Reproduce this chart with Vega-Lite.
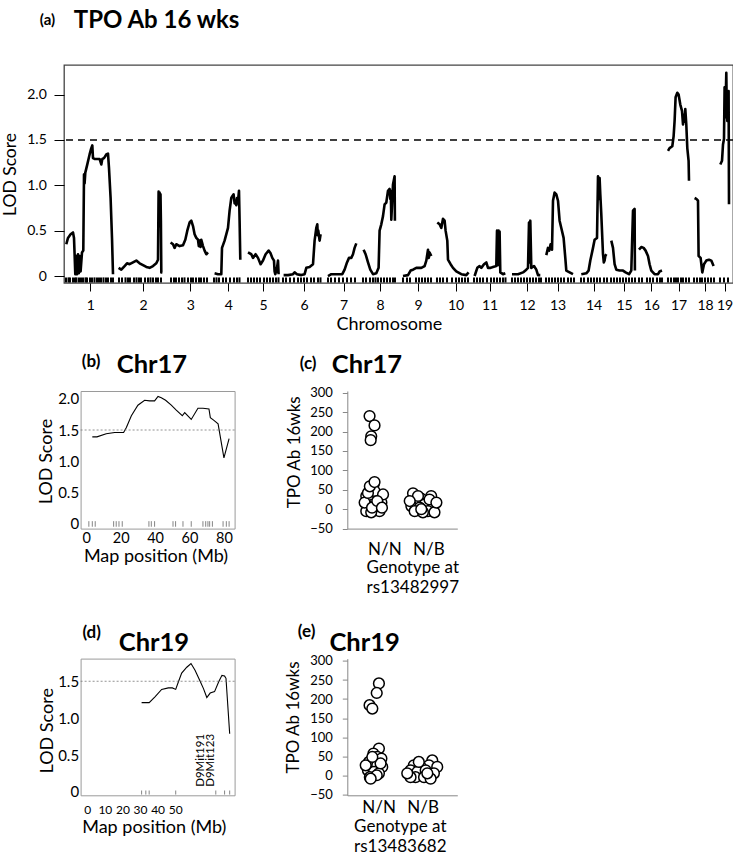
{
"$schema": "https://vega.github.io/schema/vega-lite/v6.json",
"background": "white",
"padding": {"left": 0, "top": 7, "right": 0, "bottom": 0},
"config": {"font": "Lato", "view": {"stroke": null}, "axis": {"grid": false, "labelColor": "#000", "titleColor": "#000", "titleFontWeight": "normal", "labelFlush": false, "labelOverlap": false}},
"datasets": {
"lodA": [
{"chr":1,"pos":2.3,"lod":0.35},{"chr":1,"pos":4.0,"lod":0.42},{"chr":1,"pos":6.6,"lod":0.46},{"chr":1,"pos":9.0,"lod":0.48},{"chr":1,"pos":10.0,"lod":0.42},{"chr":1,"pos":10.6,"lod":0.24},{"chr":1,"pos":11.3,"lod":0.02},{"chr":1,"pos":12.3,"lod":0.22},{"chr":1,"pos":13.0,"lod":0.02},{"chr":1,"pos":14.0,"lod":0.24},{"chr":1,"pos":14.8,"lod":0.03},{"chr":1,"pos":15.8,"lod":0.22},{"chr":1,"pos":16.6,"lod":0.05},{"chr":1,"pos":18.0,"lod":0.26},{"chr":1,"pos":19.3,"lod":0.28},{"chr":1,"pos":20.0,"lod":1.12},{"chr":1,"pos":20.6,"lod":1.02},{"chr":1,"pos":21.3,"lod":1.14},{"chr":1,"pos":23.3,"lod":1.23},{"chr":1,"pos":25.6,"lod":1.34},{"chr":1,"pos":27.3,"lod":1.41},{"chr":1,"pos":28.3,"lod":1.44},{"chr":1,"pos":29.0,"lod":1.30},{"chr":1,"pos":30.6,"lod":1.29},{"chr":1,"pos":35.6,"lod":1.29},{"chr":1,"pos":37.3,"lod":1.23},{"chr":1,"pos":38.3,"lod":1.29},{"chr":1,"pos":40.0,"lod":1.30},{"chr":1,"pos":42.3,"lod":1.34},{"chr":1,"pos":44.0,"lod":1.35},{"chr":1,"pos":45.0,"lod":1.19},{"chr":1,"pos":46.6,"lod":0.86},{"chr":1,"pos":48.0,"lod":0.42},{"chr":1,"pos":49.0,"lod":0.02},
{"chr":2,"pos":54.6,"lod":0.09},{"chr":2,"pos":57.3,"lod":0.07},{"chr":2,"pos":60.6,"lod":0.11},{"chr":2,"pos":63.0,"lod":0.14},{"chr":2,"pos":65.6,"lod":0.13},{"chr":2,"pos":69.0,"lod":0.15},{"chr":2,"pos":72.3,"lod":0.17},{"chr":2,"pos":75.6,"lod":0.14},{"chr":2,"pos":79.0,"lod":0.12},{"chr":2,"pos":82.3,"lod":0.10},{"chr":2,"pos":85.6,"lod":0.09},{"chr":2,"pos":89.0,"lod":0.11},{"chr":2,"pos":92.3,"lod":0.14},{"chr":2,"pos":94.0,"lod":0.18},{"chr":2,"pos":94.6,"lod":0.93},{"chr":2,"pos":95.1,"lod":0.55},{"chr":2,"pos":95.6,"lod":0.92},{"chr":2,"pos":96.0,"lod":0.60},{"chr":2,"pos":96.5,"lod":0.90},{"chr":2,"pos":96.9,"lod":0.61},{"chr":2,"pos":97.3,"lod":0.04},{"chr":2,"pos":98.3,"lod":0.04},
{"chr":3,"pos":106.6,"lod":0.37},{"chr":3,"pos":109.0,"lod":0.35},{"chr":3,"pos":110.6,"lod":0.31},{"chr":3,"pos":112.3,"lod":0.35},{"chr":3,"pos":115.6,"lod":0.33},{"chr":3,"pos":119.0,"lod":0.34},{"chr":3,"pos":121.3,"lod":0.40},{"chr":3,"pos":123.3,"lod":0.50},{"chr":3,"pos":125.6,"lod":0.59},{"chr":3,"pos":127.3,"lod":0.61},{"chr":3,"pos":129.0,"lod":0.55},{"chr":3,"pos":130.6,"lod":0.46},{"chr":3,"pos":132.3,"lod":0.42},{"chr":3,"pos":134.0,"lod":0.40},{"chr":3,"pos":134.8,"lod":0.33},{"chr":3,"pos":135.6,"lod":0.39},{"chr":3,"pos":136.5,"lod":0.32},{"chr":3,"pos":137.3,"lod":0.40},{"chr":3,"pos":139.0,"lod":0.33},{"chr":3,"pos":140.6,"lod":0.28},{"chr":3,"pos":142.3,"lod":0.24},{"chr":3,"pos":144.0,"lod":0.26},
{"chr":4,"pos":150.6,"lod":0.03},{"chr":4,"pos":154.0,"lod":0.02},{"chr":4,"pos":157.3,"lod":0.02},{"chr":4,"pos":158.0,"lod":0.31},{"chr":4,"pos":160.6,"lod":0.39},{"chr":4,"pos":164.0,"lod":0.53},{"chr":4,"pos":165.6,"lod":0.72},{"chr":4,"pos":167.3,"lod":0.86},{"chr":4,"pos":168.3,"lod":0.88},{"chr":4,"pos":169.6,"lod":0.90},{"chr":4,"pos":170.6,"lod":0.80},{"chr":4,"pos":171.6,"lod":0.83},{"chr":4,"pos":172.3,"lod":0.78},{"chr":4,"pos":173.0,"lod":0.86},{"chr":4,"pos":173.8,"lod":0.80},{"chr":4,"pos":175.0,"lod":0.94},{"chr":4,"pos":175.6,"lod":0.61},{"chr":4,"pos":176.3,"lod":0.18},
{"chr":5,"pos":184.0,"lod":0.26},{"chr":5,"pos":187.3,"lod":0.24},{"chr":5,"pos":189.0,"lod":0.20},{"chr":5,"pos":191.6,"lod":0.24},{"chr":5,"pos":194.0,"lod":0.20},{"chr":5,"pos":196.6,"lod":0.13},{"chr":5,"pos":199.0,"lod":0.17},{"chr":5,"pos":201.6,"lod":0.24},{"chr":5,"pos":204.6,"lod":0.28},{"chr":5,"pos":206.6,"lod":0.25},{"chr":5,"pos":208.3,"lod":0.20},{"chr":5,"pos":210.0,"lod":0.17},{"chr":5,"pos":210.6,"lod":0.05},{"chr":5,"pos":211.3,"lod":0.02},{"chr":5,"pos":213.0,"lod":0.09},{"chr":5,"pos":214.0,"lod":0.17},{"chr":5,"pos":214.6,"lod":0.02},
{"chr":6,"pos":219.6,"lod":0.01},{"chr":6,"pos":224.0,"lod":0.01},{"chr":6,"pos":229.0,"lod":0.02},{"chr":6,"pos":230.6,"lod":0.04},{"chr":6,"pos":233.0,"lod":0.02},{"chr":6,"pos":237.3,"lod":0.01},{"chr":6,"pos":240.6,"lod":0.02},{"chr":6,"pos":242.3,"lod":0.09},{"chr":6,"pos":245.6,"lod":0.10},{"chr":6,"pos":249.0,"lod":0.13},{"chr":6,"pos":250.6,"lod":0.39},{"chr":6,"pos":252.3,"lod":0.53},{"chr":6,"pos":253.3,"lod":0.57},{"chr":6,"pos":253.8,"lod":0.45},{"chr":6,"pos":254.3,"lod":0.50},{"chr":6,"pos":255.6,"lod":0.39},{"chr":6,"pos":256.6,"lod":0.46},
{"chr":7,"pos":264.0,"lod":0.00},{"chr":7,"pos":267.3,"lod":0.02},{"chr":7,"pos":272.3,"lod":0.02},{"chr":7,"pos":278.3,"lod":0.02},{"chr":7,"pos":280.6,"lod":0.07},{"chr":7,"pos":283.0,"lod":0.15},{"chr":7,"pos":285.0,"lod":0.20},{"chr":7,"pos":287.3,"lod":0.20},{"chr":7,"pos":289.0,"lod":0.24},{"chr":7,"pos":290.6,"lod":0.31},{"chr":7,"pos":292.3,"lod":0.36},
{"chr":8,"pos":299.6,"lod":0.29},{"chr":8,"pos":301.6,"lod":0.24},{"chr":8,"pos":304.0,"lod":0.15},{"chr":8,"pos":306.3,"lod":0.07},{"chr":8,"pos":309.0,"lod":0.02},{"chr":8,"pos":312.3,"lod":0.03},{"chr":8,"pos":314.6,"lod":0.09},{"chr":8,"pos":315.6,"lod":0.50},{"chr":8,"pos":317.3,"lod":0.57},{"chr":8,"pos":319.0,"lod":0.66},{"chr":8,"pos":320.6,"lod":0.79},{"chr":8,"pos":322.3,"lod":0.81},{"chr":8,"pos":324.0,"lod":0.94},{"chr":8,"pos":325.6,"lod":0.96},{"chr":8,"pos":326.3,"lod":0.85},{"chr":8,"pos":326.8,"lod":0.94},{"chr":8,"pos":327.3,"lod":0.62},{"chr":8,"pos":329.0,"lod":1.01},{"chr":8,"pos":330.6,"lod":1.10},{"chr":8,"pos":330.9,"lod":0.61},
{"chr":9,"pos":339.0,"lod":0.00},{"chr":9,"pos":344.0,"lod":0.01},{"chr":9,"pos":346.6,"lod":0.06},{"chr":9,"pos":349.0,"lod":0.07},{"chr":9,"pos":352.3,"lod":0.09},{"chr":9,"pos":357.3,"lod":0.09},{"chr":9,"pos":360.6,"lod":0.11},{"chr":9,"pos":362.3,"lod":0.17},{"chr":9,"pos":364.0,"lod":0.29},{"chr":9,"pos":364.8,"lod":0.20},{"chr":9,"pos":365.6,"lod":0.26},{"chr":9,"pos":367.3,"lod":0.22},
{"chr":10,"pos":373.3,"lod":0.59},{"chr":10,"pos":375.6,"lod":0.57},{"chr":10,"pos":377.3,"lod":0.53},{"chr":10,"pos":379.0,"lod":0.63},{"chr":10,"pos":380.6,"lod":0.61},{"chr":10,"pos":381.6,"lod":0.50},{"chr":10,"pos":383.3,"lod":0.39},{"chr":10,"pos":384.0,"lod":0.18},{"chr":10,"pos":386.6,"lod":0.13},{"chr":10,"pos":389.0,"lod":0.09},{"chr":10,"pos":392.3,"lod":0.05},{"chr":10,"pos":397.3,"lod":0.02},{"chr":10,"pos":402.3,"lod":0.01},{"chr":10,"pos":404.6,"lod":0.04},
{"chr":11,"pos":410.6,"lod":0.00},{"chr":11,"pos":413.3,"lod":0.09},{"chr":11,"pos":415.6,"lod":0.11},{"chr":11,"pos":417.3,"lod":0.09},{"chr":11,"pos":420.0,"lod":0.13},{"chr":11,"pos":422.3,"lod":0.15},{"chr":11,"pos":424.0,"lod":0.09},{"chr":11,"pos":426.6,"lod":0.09},{"chr":11,"pos":429.0,"lod":0.10},{"chr":11,"pos":432.3,"lod":0.11},{"chr":11,"pos":433.0,"lod":0.50},{"chr":11,"pos":433.8,"lod":0.12},{"chr":11,"pos":434.6,"lod":0.50},{"chr":11,"pos":435.3,"lod":0.15},{"chr":11,"pos":435.6,"lod":0.49},{"chr":11,"pos":436.3,"lod":0.04},{"chr":11,"pos":439.0,"lod":0.02},{"chr":11,"pos":441.3,"lod":0.03},
{"chr":12,"pos":448.0,"lod":0.02},{"chr":12,"pos":454.0,"lod":0.02},{"chr":12,"pos":459.0,"lod":0.04},{"chr":12,"pos":462.3,"lod":0.07},{"chr":12,"pos":464.0,"lod":0.09},{"chr":12,"pos":465.0,"lod":0.59},{"chr":12,"pos":465.6,"lod":0.15},{"chr":12,"pos":466.3,"lod":0.61},{"chr":12,"pos":467.3,"lod":0.09},{"chr":12,"pos":470.0,"lod":0.11},{"chr":12,"pos":472.3,"lod":0.07},{"chr":12,"pos":474.0,"lod":0.01},{"chr":12,"pos":476.3,"lod":0.01},
{"chr":13,"pos":482.3,"lod":0.23},{"chr":13,"pos":484.0,"lod":0.31},{"chr":13,"pos":485.3,"lod":0.28},{"chr":13,"pos":486.6,"lod":0.35},{"chr":13,"pos":488.0,"lod":0.29},{"chr":13,"pos":489.0,"lod":0.83},{"chr":13,"pos":490.6,"lod":0.92},{"chr":13,"pos":492.3,"lod":0.90},{"chr":13,"pos":494.0,"lod":0.83},{"chr":13,"pos":495.6,"lod":0.61},{"chr":13,"pos":497.3,"lod":0.53},{"chr":13,"pos":499.6,"lod":0.42},{"chr":13,"pos":501.3,"lod":0.20},{"chr":13,"pos":502.3,"lod":0.06},{"chr":13,"pos":505.6,"lod":0.04},{"chr":13,"pos":509.0,"lod":0.02},
{"chr":14,"pos":517.3,"lod":0.02},{"chr":14,"pos":522.3,"lod":0.03},{"chr":14,"pos":524.6,"lod":0.06},{"chr":14,"pos":526.3,"lod":0.17},{"chr":14,"pos":529.0,"lod":0.31},{"chr":14,"pos":530.6,"lod":0.40},{"chr":14,"pos":533.0,"lod":0.42},{"chr":14,"pos":534.0,"lod":1.10},{"chr":14,"pos":534.6,"lod":0.85},{"chr":14,"pos":535.6,"lod":1.08},{"chr":14,"pos":536.3,"lod":0.90},{"chr":14,"pos":537.3,"lod":0.68},{"chr":14,"pos":539.0,"lod":0.24},{"chr":14,"pos":539.8,"lod":0.15},{"chr":14,"pos":540.6,"lod":0.17},{"chr":14,"pos":541.3,"lod":0.22},{"chr":14,"pos":542.3,"lod":0.24},
{"chr":15,"pos":547.3,"lod":0.39},{"chr":15,"pos":549.0,"lod":0.31},{"chr":15,"pos":550.6,"lod":0.13},{"chr":15,"pos":552.3,"lod":0.07},{"chr":15,"pos":555.6,"lod":0.06},{"chr":15,"pos":559.0,"lod":0.06},{"chr":15,"pos":561.6,"lod":0.04},{"chr":15,"pos":565.0,"lod":0.02},{"chr":15,"pos":567.3,"lod":0.06},{"chr":15,"pos":569.0,"lod":0.72},{"chr":15,"pos":570.6,"lod":0.74},{"chr":15,"pos":570.9,"lod":0.06},
{"chr":16,"pos":575.0,"lod":0.29},{"chr":16,"pos":577.3,"lod":0.32},{"chr":16,"pos":579.6,"lod":0.31},{"chr":16,"pos":581.6,"lod":0.28},{"chr":16,"pos":584.0,"lod":0.22},{"chr":16,"pos":585.6,"lod":0.13},{"chr":16,"pos":587.3,"lod":0.06},{"chr":16,"pos":590.6,"lod":0.02},{"chr":16,"pos":594.0,"lod":0.02},{"chr":16,"pos":595.6,"lod":0.05},{"chr":16,"pos":598.0,"lod":0.06},
{"chr":17,"pos":604.0,"lod":1.38},{"chr":17,"pos":605.6,"lod":1.41},{"chr":17,"pos":608.3,"lod":1.43},{"chr":17,"pos":609.6,"lod":1.54},{"chr":17,"pos":610.6,"lod":1.71},{"chr":17,"pos":611.6,"lod":1.97},{"chr":17,"pos":613.3,"lod":2.02},{"chr":17,"pos":614.6,"lod":2.00},{"chr":17,"pos":616.3,"lod":1.89},{"chr":17,"pos":618.0,"lod":1.82},{"chr":17,"pos":619.0,"lod":1.67},{"chr":17,"pos":620.0,"lod":1.78},{"chr":17,"pos":620.6,"lod":1.70},{"chr":17,"pos":621.3,"lod":1.84},{"chr":17,"pos":622.3,"lod":1.67},{"chr":17,"pos":623.3,"lod":1.41},{"chr":17,"pos":624.6,"lod":1.27},{"chr":17,"pos":625.0,"lod":1.05},
{"chr":18,"pos":630.6,"lod":0.86},{"chr":18,"pos":632.3,"lod":0.85},{"chr":18,"pos":634.0,"lod":0.83},{"chr":18,"pos":634.6,"lod":0.22},{"chr":18,"pos":636.6,"lod":0.20},{"chr":18,"pos":638.3,"lod":0.04},{"chr":18,"pos":640.0,"lod":0.13},{"chr":18,"pos":642.3,"lod":0.17},{"chr":18,"pos":645.0,"lod":0.18},{"chr":18,"pos":647.3,"lod":0.17},{"chr":18,"pos":649.6,"lod":0.11},
{"chr":19,"pos":656.3,"lod":1.23},{"chr":19,"pos":658.0,"lod":1.27},{"chr":19,"pos":659.0,"lod":1.45},{"chr":19,"pos":660.0,"lod":1.51},{"chr":19,"pos":660.6,"lod":2.08},{"chr":19,"pos":661.3,"lod":1.75},{"chr":19,"pos":662.3,"lod":2.24},{"chr":19,"pos":662.8,"lod":1.80},{"chr":19,"pos":663.3,"lod":1.71},{"chr":19,"pos":664.6,"lod":2.04},{"chr":19,"pos":665.0,"lod":0.79}
],
"rugA": [
{"pos":2},{"pos":4.5},{"pos":6},{"pos":9},{"pos":11},{"pos":12.5},{"pos":15},{"pos":17},{"pos":19},{"pos":21.5},{"pos":23},{"pos":26},{"pos":28},{"pos":30.5},{"pos":33},{"pos":35},{"pos":37},{"pos":39.5},{"pos":42},{"pos":44},{"pos":47},{"pos":49},
{"pos":55},{"pos":58},{"pos":61.5},{"pos":64},{"pos":66},{"pos":70},{"pos":72.5},{"pos":75},{"pos":77},{"pos":81},{"pos":84},{"pos":86.5},{"pos":89},{"pos":92},{"pos":94},{"pos":97},
{"pos":107},{"pos":110},{"pos":112},{"pos":115},{"pos":118},{"pos":120.5},{"pos":124},{"pos":127},{"pos":129},{"pos":132},{"pos":135},{"pos":137},{"pos":140},{"pos":143},
{"pos":150},{"pos":152.5},{"pos":155},{"pos":159},{"pos":162},{"pos":166},{"pos":170},{"pos":173},{"pos":175.5},
{"pos":184},{"pos":187},{"pos":190},{"pos":193},{"pos":196},{"pos":200},{"pos":203},{"pos":206},{"pos":209},{"pos":212},{"pos":214.5},
{"pos":219},{"pos":222},{"pos":226},{"pos":230},{"pos":234},{"pos":237},{"pos":240},{"pos":243},{"pos":247},{"pos":250},{"pos":254},{"pos":256.5},
{"pos":264},{"pos":267},{"pos":271},{"pos":275},{"pos":279},{"pos":283},{"pos":287},{"pos":291},
{"pos":299},{"pos":302},{"pos":306},{"pos":309},{"pos":311.5},{"pos":314},{"pos":317},{"pos":320},{"pos":323},{"pos":326},{"pos":329},{"pos":331},
{"pos":339},{"pos":343},{"pos":346},{"pos":352},{"pos":355},{"pos":358},{"pos":361},{"pos":364},{"pos":367},
{"pos":373},{"pos":376},{"pos":379},{"pos":383},{"pos":388},{"pos":392},{"pos":395},{"pos":398},{"pos":401},{"pos":404},
{"pos":410},{"pos":413},{"pos":416},{"pos":419},{"pos":423},{"pos":427},{"pos":430},{"pos":433},{"pos":436},{"pos":439},{"pos":441.5},
{"pos":448},{"pos":451},{"pos":454},{"pos":457},{"pos":460},{"pos":463},{"pos":466},{"pos":469},{"pos":472},{"pos":475},{"pos":477},
{"pos":482},{"pos":485},{"pos":488},{"pos":491},{"pos":494},{"pos":497},{"pos":500},{"pos":504},{"pos":507},{"pos":510},
{"pos":517},{"pos":520},{"pos":524},{"pos":527},{"pos":530},{"pos":533},{"pos":536},{"pos":540},{"pos":543},
{"pos":547},{"pos":550},{"pos":553},{"pos":556},{"pos":559},{"pos":562},{"pos":565},{"pos":568},{"pos":571},
{"pos":575},{"pos":578},{"pos":583},{"pos":586},{"pos":589},{"pos":593},{"pos":596},{"pos":598},
{"pos":604},{"pos":607},{"pos":610},{"pos":612},{"pos":614},{"pos":617},{"pos":619},{"pos":622},{"pos":625},
{"pos":630},{"pos":633},{"pos":636},{"pos":638},{"pos":641},{"pos":644},{"pos":647},{"pos":650},
{"pos":656},{"pos":660},{"pos":664}
],
"lodB": [
{"mb":3.5,"lod":1.39},{"mb":6.2,"lod":1.39},{"mb":11.6,"lod":1.44},{"mb":16.5,"lod":1.46},{"mb":21.7,"lod":1.46},{"mb":23.3,"lod":1.54},{"mb":26.2,"lod":1.73},{"mb":30.0,"lod":1.90},{"mb":33.9,"lod":1.98},{"mb":36.8,"lod":1.97},{"mb":39.7,"lod":1.97},{"mb":41.7,"lod":2.04},{"mb":43.6,"lod":2.02},{"mb":46.1,"lod":1.98},{"mb":49.4,"lod":1.90},{"mb":52.3,"lod":1.82},{"mb":55.8,"lod":1.73},{"mb":57.2,"lod":1.78},{"mb":61.0,"lod":1.67},{"mb":64.9,"lod":1.85},{"mb":67.8,"lod":1.85},{"mb":71.3,"lod":1.84},{"mb":72.1,"lod":1.70},{"mb":74.0,"lod":1.66},{"mb":76.6,"lod":1.60},{"mb":80.0,"lod":1.05},{"mb":83.0,"lod":1.36}
],
"rugB": [{"mb":1.5},{"mb":3.5},{"mb":5.2},{"mb":15.9},{"mb":17.4},{"mb":19.0},{"mb":20.9},{"mb":36.4},{"mb":37.8},{"mb":39.7},{"mb":50.4},{"mb":51.9},{"mb":56.2},{"mb":61.0},{"mb":67.8},{"mb":69.4},{"mb":70.7},{"mb":71.7},{"mb":73.3},{"mb":79.5},{"mb":81.4},{"mb":83.0}],
"lodD": [
{"mb":30.9,"lod":1.21},{"mb":35.2,"lod":1.21},{"mb":38.5,"lod":1.29},{"mb":42.3,"lod":1.39},{"mb":46.1,"lod":1.41},{"mb":48.4,"lod":1.41},{"mb":50.3,"lod":1.39},{"mb":51.8,"lod":1.49},{"mb":53.7,"lod":1.61},{"mb":56.6,"lod":1.69},{"mb":59.0,"lod":1.74},{"mb":61.3,"lod":1.65},{"mb":64.2,"lod":1.50},{"mb":66.1,"lod":1.40},{"mb":68.0,"lod":1.28},{"mb":69.9,"lod":1.34},{"mb":72.4,"lod":1.36},{"mb":74.7,"lod":1.49},{"mb":76.6,"lod":1.58},{"mb":78.1,"lod":1.57},{"mb":78.9,"lod":1.54},{"mb":81.0,"lod":0.79}
],
"rugD": [{"mb":30.9},{"mb":33.3},{"mb":35.2},{"mb":50.3},{"mb":73.1},{"mb":78.1},{"mb":81.0}],
"markD": [{"name":"D9Mit191","mb":64.6,"lod":0.07},{"name":"D9Mit123","mb":70.6,"lod":0.07}],
"ptsC": [
{"jx":0.81,"tpo":240},{"jx":0.99,"tpo":216},{"jx":0.87,"tpo":188},{"jx":0.85,"tpo":178},{"jx":0.97,"tpo":66},{"jx":0.85,"tpo":55},{"jx":0.69,"tpo":34},{"jx":0.81,"tpo":25},{"jx":1.12,"tpo":34},{"jx":1.24,"tpo":17},{"jx":0.93,"tpo":12},{"jx":0.75,"tpo":8},{"jx":0.69,"tpo":-5},{"jx":1.05,"tpo":-1},{"jx":1.17,"tpo":-5},{"jx":0.87,"tpo":-8},{"jx":0.99,"tpo":47},{"jx":1.30,"tpo":38},{"jx":0.63,"tpo":17},{"jx":1.17,"tpo":8},{"jx":0.90,"tpo":4},{"jx":0.75,"tpo":42},{"jx":1.09,"tpo":21},{"jx":1.26,"tpo":4},{"jx":0.82,"tpo":59},{"jx":0.99,"tpo":70},
{"jx":2.39,"tpo":41},{"jx":3.05,"tpo":34},{"jx":2.69,"tpo":27},{"jx":2.93,"tpo":19},{"jx":2.51,"tpo":17},{"jx":2.81,"tpo":12},{"jx":2.33,"tpo":8},{"jx":2.63,"tpo":4},{"jx":3.12,"tpo":4},{"jx":2.45,"tpo":-5},{"jx":2.93,"tpo":-5},{"jx":3.17,"tpo":-8},{"jx":2.75,"tpo":-8},{"jx":2.57,"tpo":34},{"jx":2.99,"tpo":25},{"jx":2.27,"tpo":21},{"jx":3.24,"tpo":17},{"jx":2.69,"tpo":0}
],
"ptsE": [
{"jx":1.15,"tpo":241},{"jx":1.07,"tpo":216},{"jx":0.81,"tpo":184},{"jx":0.91,"tpo":175},{"jx":1.15,"tpo":70},{"jx":0.95,"tpo":57},{"jx":1.09,"tpo":48},{"jx":0.79,"tpo":35},{"jx":1.02,"tpo":39},{"jx":1.24,"tpo":44},{"jx":0.85,"tpo":22},{"jx":1.09,"tpo":26},{"jx":1.27,"tpo":22},{"jx":0.75,"tpo":13},{"jx":0.97,"tpo":9},{"jx":1.15,"tpo":5},{"jx":0.82,"tpo":-5},{"jx":1.07,"tpo":0},{"jx":0.85,"tpo":-9},{"jx":0.67,"tpo":26},{"jx":1.21,"tpo":31},{"jx":0.91,"tpo":48},
{"jx":3.09,"tpo":39},{"jx":2.97,"tpo":26},{"jx":3.27,"tpo":22},{"jx":2.42,"tpo":26},{"jx":2.67,"tpo":22},{"jx":2.30,"tpo":13},{"jx":2.55,"tpo":9},{"jx":2.85,"tpo":13},{"jx":3.15,"tpo":5},{"jx":2.48,"tpo":-5},{"jx":2.79,"tpo":-5},{"jx":3.03,"tpo":-9},{"jx":2.30,"tpo":-5},{"jx":2.60,"tpo":35},{"jx":2.91,"tpo":5},{"jx":2.18,"tpo":5}
]
},
"spacing": 17,
"vconcat": [
{
"width": 669, "height": 218,
"view": {"stroke": "#444", "strokeWidth": 1.3},
"resolve": {"axis": {"x": "independent", "y": "independent"}},
"layer": [
{"data": {"name": "lodA"}, "mark": {"type": "line", "color": "#000", "strokeWidth": 2.6, "strokeJoin": "round"},
 "encoding": {
  "x": {"field": "pos", "type": "quantitative", "scale": {"domain": [0, 669], "nice": false, "zero": false},
   "axis": {"orient": "bottom", "values": [26.3,79,126.3,164.3,199,240,279.6,316,354,391.6,425.6,463,493.6,529.6,560,587.3,614.6,641,660.6], "labelExpr": "indexof([26.3,79,126.3,164.3,199,240,279.6,316,354,391.6,425.6,463,493.6,529.6,560,587.3,614.6,641,660.6], datum.value) + 1", "domain": false, "tickSize": 8, "tickColor": "#000", "tickWidth": 1, "labelFontSize": 14, "labelPadding": 7, "title": "Chromosome", "titleFontSize": 18, "titleX": 324.8, "titleY": 46.3, "titleAlign": "center", "titleBaseline": "alphabetic"}},
  "y": {"field": "lod", "type": "quantitative", "scale": {"domain": [-0.077, 2.326], "nice": false, "zero": false},
   "axis": {"orient": "left", "values": [0, 0.5, 1, 1.5, 2], "labelExpr": "datum.value == 0 ? '0' : format(datum.value, '.1f')", "domain": false, "tickSize": 10, "tickColor": "#000", "tickWidth": 1, "labelFontSize": 14, "labelPadding": 7.7, "title": "LOD Score", "titleFontSize": 17.5, "titleX": -53.6, "titleY": 109, "titleAngle": 270, "titleAlign": "center", "titleBaseline": "middle"}},
  "detail": {"field": "chr", "type": "nominal"}
 }},
{"data": {"values": [{"thr": 1.5}]}, "mark": {"type": "rule", "color": "#000", "strokeWidth": 1.5, "strokeDash": [7, 5]},
 "encoding": {"y": {"field": "thr", "type": "quantitative", "axis": null}}},
{"data": {"name": "rugA"}, "mark": {"type": "rule", "color": "#000", "strokeWidth": 2},
 "encoding": {"x": {"field": "pos", "type": "quantitative", "axis": null}, "y": {"datum": -0.072, "type": "quantitative", "axis": null}, "y2": {"datum": -0.015}}},
{"data": {"values": []}, "mark": "point",
 "encoding": {
  "x": {"field": "pos", "type": "quantitative", "axis": {"orient": "top", "labels": false, "ticks": false, "domain": false, "title": "TPO Ab 16 wks", "titleFontSize": 24, "titleFontWeight": "bold", "titleX": 9.3, "titleY": -38, "titleAlign": "left", "titleBaseline": "alphabetic"}},
  "y": {"field": "lod", "type": "quantitative", "axis": {"orient": "right", "labels": false, "ticks": false, "domain": false, "title": "(a)", "titleFontSize": 15, "titleFontWeight": "bold", "titleAngle": 0, "titleX": -693.7, "titleY": -41, "titleAlign": "left", "titleBaseline": "alphabetic"}}
 }}
]
},
{
"bounds": "flush",
"spacing": 15.6,
"hconcat": [
{"width": 1, "height": 1, "data": {"values": []}, "mark": "point"},
{
"columns": 2,
"spacing": {"row": 25.6, "column": 48.7},
"concat": [
{
"width": 154, "height": 137.6,
"view": {"stroke": "#9a9a9a", "strokeWidth": 1},
"resolve": {"axis": {"x": "independent", "y": "independent"}},
"layer": [
{"data": {"name": "lodB"}, "mark": {"type": "line", "color": "#000", "strokeWidth": 1.1},
 "encoding": {
  "x": {"field": "mb", "type": "quantitative", "scale": {"domain": [-3.3, 86.2], "nice": false, "zero": false},
   "axis": {"orient": "bottom", "values": [0, 20, 40, 60, 80], "domain": false, "ticks": false, "labelFontSize": 14.5, "labelBaseline": "alphabetic", "labelPadding": 14, "title": "Map position (Mb)", "titleFontSize": 18, "titleX": 74.9, "titleY": 32.4, "titleAlign": "center", "titleBaseline": "alphabetic"}},
  "y": {"field": "lod", "type": "quantitative", "scale": {"domain": [-0.09, 2.129], "nice": false, "zero": false},
   "axis": {"orient": "left", "values": [0, 0.5, 1, 1.5, 2], "labelExpr": "datum.value == 0 ? '0' : format(datum.value, '.1f')", "domain": false, "ticks": false, "labelFontSize": 15, "labelPadding": 2, "title": "LOD Score", "titleFontSize": 18, "titleX": -34.3, "titleY": 70, "titleAngle": 270, "titleAlign": "center", "titleBaseline": "middle"}}
 }},
{"data": {"values": [{"thr": 1.5}]}, "mark": {"type": "rule", "color": "#777", "strokeWidth": 0.8, "strokeDash": [2, 2]},
 "encoding": {"y": {"field": "thr", "type": "quantitative", "axis": null}}},
{"data": {"name": "rugB"}, "mark": {"type": "rule", "color": "#666", "strokeWidth": 0.8},
 "encoding": {"x": {"field": "mb", "type": "quantitative", "axis": null}, "y": {"datum": -0.06, "type": "quantitative", "axis": null}, "y2": {"datum": 0.03}}},
{"data": {"values": []}, "mark": "point",
 "encoding": {
  "x": {"field": "mb", "type": "quantitative", "axis": {"orient": "top", "labels": false, "ticks": false, "domain": false, "title": "Chr17", "titleFontSize": 25.5, "titleFontWeight": "bold", "titleX": 35.7, "titleY": -18.4, "titleAlign": "left", "titleBaseline": "alphabetic"}},
  "y": {"field": "lod", "type": "quantitative", "axis": {"orient": "right", "labels": false, "ticks": false, "domain": false, "title": "(b)", "titleFontSize": 17, "titleFontWeight": "bold", "titleAngle": 0, "titleX": -153.3, "titleY": -25, "titleAlign": "left", "titleBaseline": "alphabetic"}}
 }}
]
},
{
"width": 110, "height": 137.6,
"resolve": {"axis": {"x": "independent", "y": "independent"}},
"layer": [
{"data": {"name": "ptsC"}, "mark": {"type": "point", "shape": "circle", "filled": true, "fill": "white", "stroke": "#000", "strokeWidth": 1.5, "size": 115, "opacity": 1},
 "encoding": {
  "x": {"field": "jx", "type": "quantitative", "scale": {"domain": [0, 4], "nice": false, "zero": false},
   "axis": {"orient": "bottom", "values": [1.35, 2.95], "labelExpr": "datum.value < 2 ? 'N/N' : 'N/B'", "ticks": false, "domainColor": "#888", "labelFontSize": 17, "labelBaseline": "alphabetic", "labelPadding": 25.7, "title": ["Genotype at", "rs13482997"], "titleFontSize": 17, "titleLineHeight": 20, "titleX": 65, "titleY": 30.6, "titleAlign": "center", "titleBaseline": "top"}},
  "y": {"field": "tpo", "type": "quantitative", "scale": {"domain": [-50, 304.6], "nice": false, "zero": false},
   "axis": {"orient": "left", "values": [-50, 0, 50, 100, 150, 200, 250, 300], "domainColor": "#888", "tickColor": "#888", "tickSize": 5, "labelFontSize": 13, "labelPadding": 10, "title": "TPO Ab 16wks", "titleFontSize": 17, "titleX": -52.7, "titleY": 60.8, "titleAngle": 270, "titleAlign": "center", "titleBaseline": "middle"}}
 }},
{"data": {"values": []}, "mark": "point",
 "encoding": {
  "x": {"field": "jx", "type": "quantitative", "axis": {"orient": "top", "labels": false, "ticks": false, "domain": false, "title": "Chr17", "titleFontSize": 25.5, "titleFontWeight": "bold", "titleX": -16, "titleY": -18.4, "titleAlign": "left", "titleBaseline": "alphabetic"}},
  "y": {"field": "tpo", "type": "quantitative", "axis": {"orient": "right", "labels": false, "ticks": false, "domain": false, "title": "(c)", "titleFontSize": 17, "titleFontWeight": "bold", "titleAngle": 0, "titleX": -158, "titleY": -22.7, "titleAlign": "left", "titleBaseline": "alphabetic"}}
 }}
]
},
{
"width": 154, "height": 136.7,
"view": {"stroke": "#9a9a9a", "strokeWidth": 1},
"resolve": {"axis": {"x": "independent", "y": "independent"}},
"layer": [
{"data": {"name": "lodD"}, "mark": {"type": "line", "color": "#000", "strokeWidth": 1.1},
 "encoding": {
  "x": {"field": "mb", "type": "quantitative", "scale": {"domain": [-3.8, 83.8], "nice": false, "zero": false},
   "axis": {"orient": "bottom", "values": [0, 10, 20, 30, 40, 50], "domain": false, "ticks": false, "labelFontSize": 12, "labelBaseline": "alphabetic", "labelPadding": 18.3, "title": "Map position (Mb)", "titleFontSize": 18, "titleX": 73.2, "titleY": 36.7, "titleAlign": "center", "titleBaseline": "alphabetic"}},
  "y": {"field": "lod", "type": "quantitative", "scale": {"domain": [-0.045, 1.807], "nice": false, "zero": false},
   "axis": {"orient": "left", "values": [0, 0.5, 1, 1.5], "labelExpr": "datum.value == 0 ? '0' : format(datum.value, '.1f')", "domain": false, "ticks": false, "labelFontSize": 15, "labelPadding": 2, "title": "LOD Score", "titleFontSize": 18, "titleX": -33.5, "titleY": 71.7, "titleAngle": 270, "titleAlign": "center", "titleBaseline": "middle"}}
 }},
{"data": {"values": [{"thr": 1.5}]}, "mark": {"type": "rule", "color": "#777", "strokeWidth": 0.8, "strokeDash": [2, 2]},
 "encoding": {"y": {"field": "thr", "type": "quantitative", "axis": null}}},
{"data": {"name": "rugD"}, "mark": {"type": "rule", "color": "#666", "strokeWidth": 0.8},
 "encoding": {"x": {"field": "mb", "type": "quantitative", "axis": null}, "y": {"datum": -0.035, "type": "quantitative", "axis": null}, "y2": {"datum": 0.02}}},
{"data": {"name": "markD"}, "mark": {"type": "text", "angle": 270, "align": "left", "baseline": "middle", "fontSize": 11.5, "color": "#000"},
 "encoding": {"x": {"field": "mb", "type": "quantitative", "axis": null}, "y": {"field": "lod", "type": "quantitative", "axis": null}, "text": {"field": "name"}}},
{"data": {"values": []}, "mark": "point",
 "encoding": {
  "x": {"field": "mb", "type": "quantitative", "axis": {"orient": "top", "labels": false, "ticks": false, "domain": false, "title": "Chr19", "titleFontSize": 25.5, "titleFontWeight": "bold", "titleX": 37.7, "titleY": -8.3, "titleAlign": "left", "titleBaseline": "alphabetic"}},
  "y": {"field": "lod", "type": "quantitative", "axis": {"orient": "right", "labels": false, "ticks": false, "domain": false, "title": "(d)", "titleFontSize": 17, "titleFontWeight": "bold", "titleAngle": 0, "titleX": -152.7, "titleY": -21.6, "titleAlign": "left", "titleBaseline": "alphabetic"}}
 }}
]
},
{
"width": 110, "height": 136.7,
"resolve": {"axis": {"x": "independent", "y": "independent"}},
"layer": [
{"data": {"name": "ptsE"}, "mark": {"type": "point", "shape": "circle", "filled": true, "fill": "white", "stroke": "#000", "strokeWidth": 1.5, "size": 115, "opacity": 1},
 "encoding": {
  "x": {"field": "jx", "type": "quantitative", "scale": {"domain": [0, 4], "nice": false, "zero": false},
   "axis": {"orient": "bottom", "values": [1.14, 2.74], "labelExpr": "datum.value < 2 ? 'N/N' : 'N/B'", "ticks": false, "domainColor": "#888", "labelFontSize": 17, "labelBaseline": "alphabetic", "labelPadding": 16.7, "title": ["Genotype at", "rs13483682"], "titleFontSize": 17, "titleLineHeight": 20, "titleX": 52.5, "titleY": 23.3, "titleAlign": "center", "titleBaseline": "top"}},
  "y": {"field": "tpo", "type": "quantitative", "scale": {"domain": [-52.6, 306.2], "nice": false, "zero": false},
   "axis": {"orient": "left", "values": [-50, 0, 50, 100, 150, 200, 250, 300], "domainColor": "#888", "tickColor": "#888", "tickSize": 5, "labelFontSize": 13, "labelPadding": 10, "title": "TPO Ab 16wks", "titleFontSize": 17, "titleX": -53.4, "titleY": 58.4, "titleAngle": 270, "titleAlign": "center", "titleBaseline": "middle"}}
 }},
{"data": {"values": []}, "mark": "point",
 "encoding": {
  "x": {"field": "jx", "type": "quantitative", "axis": {"orient": "top", "labels": false, "ticks": false, "domain": false, "title": "Chr19", "titleFontSize": 25.5, "titleFontWeight": "bold", "titleX": -18.4, "titleY": -8.3, "titleAlign": "left", "titleBaseline": "alphabetic"}},
  "y": {"field": "tpo", "type": "quantitative", "axis": {"orient": "right", "labels": false, "ticks": false, "domain": false, "title": "(e)", "titleFontSize": 17, "titleFontWeight": "bold", "titleAngle": 0, "titleX": -160, "titleY": -22.3, "titleAlign": "left", "titleBaseline": "alphabetic"}}
 }}
]
}
]
}
]
}
]
}
